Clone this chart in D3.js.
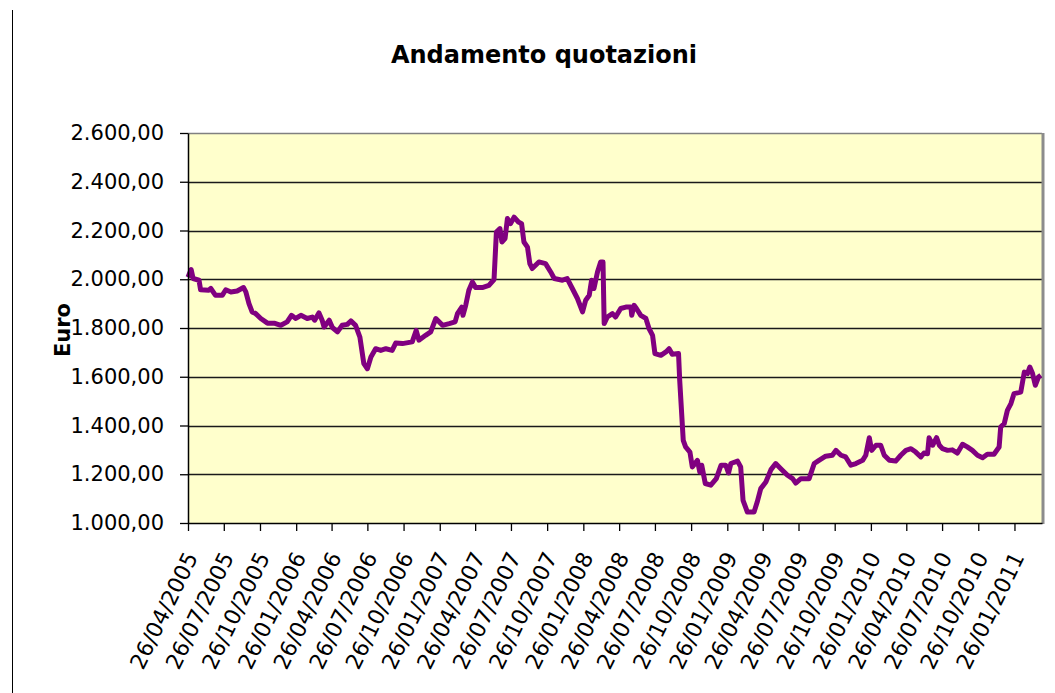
<!DOCTYPE html>
<html>
<head>
<meta charset="utf-8">
<script src="https://cdn.jsdelivr.net/npm/d3@7"></script>
<style>
body { margin: 0; background: #fff; }
svg { display: block; }
</style>
</head>
<body>
<svg id="chart" width="1055" height="693"></svg>
<script>
var dates = [
  "2005-04-26","2005-05-04","2005-05-09","2005-05-24","2005-05-28","2005-06-18","2005-06-23","2005-07-05",
  "2005-07-22","2005-07-31","2005-08-13","2005-08-29","2005-09-14","2005-09-20","2005-09-28","2005-10-06",
  "2005-10-15","2005-10-28","2005-11-14","2005-12-01","2005-12-18","2006-01-03","2006-01-14","2006-01-25",
  "2006-02-07","2006-02-23","2006-03-08","2006-03-14","2006-03-25","2006-04-02","2006-04-07","2006-04-20",
  "2006-04-28","2006-05-11","2006-05-23","2006-06-05","2006-06-14","2006-06-26","2006-07-07","2006-07-17",
  "2006-07-26","2006-08-04","2006-08-16","2006-08-29","2006-09-11","2006-09-27","2006-10-06","2006-10-23",
  "2006-11-17","2006-11-27","2006-12-04","2006-12-21","2007-01-03","2007-01-16","2007-02-02","2007-02-19",
  "2007-03-06","2007-03-12","2007-03-23","2007-03-26","2007-04-02","2007-04-10","2007-04-19","2007-04-27",
  "2007-05-14","2007-05-31","2007-06-13","2007-06-19","2007-06-28","2007-07-03","2007-07-11","2007-07-17",
  "2007-07-25","2007-08-03","2007-08-14","2007-08-22","2007-08-28","2007-09-06","2007-09-12","2007-09-18",
  "2007-10-05","2007-10-22","2007-11-04","2007-11-13","2007-12-04","2007-12-16","2007-12-29","2008-01-11",
  "2008-01-24","2008-02-01","2008-02-10","2008-02-16","2008-02-22","2008-03-02","2008-03-10","2008-03-16",
  "2008-03-19","2008-03-27","2008-04-09","2008-04-17","2008-04-30","2008-05-13","2008-05-26","2008-05-28",
  "2008-06-03","2008-06-09","2008-06-20","2008-07-03","2008-07-11","2008-07-20","2008-07-26","2008-08-10",
  "2008-08-23","2008-08-31","2008-09-08","2008-09-24","2008-09-27","2008-10-06","2008-10-12","2008-10-23",
  "2008-10-29","2008-11-11","2008-11-17","2008-11-22","2008-12-01","2008-12-15","2008-12-29","2009-01-10",
  "2009-01-22","2009-01-29","2009-02-04","2009-02-21","2009-03-01","2009-03-07","2009-03-18","2009-04-04",
  "2009-04-12","2009-04-21","2009-05-04","2009-05-17","2009-05-29","2009-06-11","2009-06-28","2009-07-11",
  "2009-07-19","2009-08-01","2009-08-22","2009-09-04","2009-09-16","2009-10-03","2009-10-20","2009-10-29",
  "2009-11-11","2009-11-23","2009-12-06","2009-12-19","2010-01-05","2010-01-13","2010-01-22","2010-01-28",
  "2010-02-08","2010-02-20","2010-03-01","2010-03-14","2010-03-30","2010-04-12","2010-04-25","2010-05-08",
  "2010-05-20","2010-06-02","2010-06-10","2010-06-19","2010-06-23","2010-07-02","2010-07-12","2010-07-19",
  "2010-07-27","2010-08-09","2010-08-21","2010-09-03","2010-09-16","2010-09-28","2010-10-11","2010-10-24",
  "2010-11-06","2010-11-18","2010-12-05","2010-12-18","2010-12-22","2010-12-31","2011-01-08","2011-01-17",
  "2011-01-25","2011-02-11","2011-02-20","2011-02-28","2011-03-06","2011-03-13","2011-03-20","2011-03-28",
  "2011-04-03"
];
var prices = [
  2008,2040,2003,1996,1957,1955,1962,1934,
  1934,1957,1948,1952,1966,1948,1900,1866,
  1859,1839,1820,1820,1811,1825,1852,1839,
  1852,1839,1845,1832,1862,1832,1804,1832,
  1802,1784,1811,1815,1829,1811,1763,1654,
  1633,1681,1715,1708,1715,1708,1738,1736,
  1743,1790,1750,1770,1784,1839,1811,1818,
  1825,1859,1886,1852,1893,1955,1989,1966,
  1966,1975,1999,2194,2208,2153,2167,2249,
  2228,2255,2235,2228,2153,2132,2064,2044,
  2071,2064,2030,2003,1996,2003,1962,1921,
  1866,1914,1934,1996,1962,2030,2071,2071,
  1818,1845,1859,1845,1880,1886,1886,1852,
  1893,1880,1852,1839,1798,1770,1695,1688,
  1702,1715,1692,1695,1585,1339,1312,1291,
  1230,1257,1209,1237,1162,1155,1182,1237,
  1237,1205,1244,1254,1230,1093,1045,1045,
  1086,1141,1168,1219,1244,1223,1196,1182,
  1164,1182,1182,1244,1257,1274,1278,1298,
  1278,1271,1237,1244,1257,1278,1350,1298,
  1319,1319,1278,1257,1254,1278,1298,1305,
  1291,1271,1287,1284,1350,1319,1350,1319,
  1305,1298,1300,1287,1323,1312,1298,1278,
  1268,1282,1282,1312,1394,1408,1462,1490,
  1531,1537,1619,1613,1640,1613,1565,1599,
  1606
];
var xTickLabels = [
  "26/04/2005","26/07/2005","26/10/2005","26/01/2006","26/04/2006","26/07/2006",
  "26/10/2006","26/01/2007","26/04/2007","26/07/2007","26/10/2007","26/01/2008",
  "26/04/2008","26/07/2008","26/10/2008","26/01/2009","26/04/2009","26/07/2009",
  "26/10/2009","26/01/2010","26/04/2010","26/07/2010","26/10/2010","26/01/2011"
];
var yTicks = [1000, 1200, 1400, 1600, 1800, 2000, 2200, 2400, 2600];
var chartTitle = "Andamento quotazioni";
var yTitle = "Euro";

(function () {
  var svg = d3.select("#chart");
  var plotLeft = 188, plotRight = 1042, plotTop = 133, plotBottom = 523;
  var fontFamily = "'DejaVu Sans', Verdana, sans-serif";
  var parseIso = d3.timeParse("%Y-%m-%d");
  var parseIt = d3.timeParse("%d/%m/%Y");
  var fmtIt = d3.timeFormat("%d/%m/%Y");
  var itLocale = d3.formatLocale({decimal: ",", thousands: ".", grouping: [3], currency: ["€", ""]});
  var fmtY = itLocale.format(",.2f");

  var data = dates.map(function (d, i) { return {date: parseIso(d), price: prices[i]}; });

  var x = d3.scaleTime()
      .domain([parseIso("2005-04-26"), parseIso("2011-04-06")])
      .range([plotLeft, plotRight]);
  var y = d3.scaleLinear().domain([1000, 2600]).range([plotBottom, plotTop]);

  // left border of the chart object
  svg.append("line")
      .attr("x1", 12.5).attr("x2", 12.5).attr("y1", 10).attr("y2", 693)
      .attr("stroke", "#000").attr("stroke-width", 1);

  // title
  svg.append("text")
      .attr("x", 544).attr("y", 63)
      .attr("text-anchor", "middle")
      .style("font-family", fontFamily)
      .style("font-size", "24px")
      .style("font-weight", "bold")
      .text(chartTitle);

  // plot area
  svg.append("rect")
      .attr("x", plotLeft).attr("y", plotTop)
      .attr("width", plotRight - plotLeft).attr("height", plotBottom - plotTop)
      .attr("fill", "#ffffcc");

  // gridlines
  svg.append("g").selectAll("line")
      .data(yTicks.filter(function (d) { return d > 1000 && d < 2600; }))
      .enter().append("line")
      .attr("x1", plotLeft).attr("x2", plotRight)
      .attr("y1", function (d) { return Math.round(y(d)) + 0.5; })
      .attr("y2", function (d) { return Math.round(y(d)) + 0.5; })
      .attr("stroke", "#1a1a1a").attr("stroke-width", 1.3);

  // top and right border, grey
  svg.append("line")
      .attr("x1", plotLeft).attr("x2", plotRight).attr("y1", plotTop + 0.5).attr("y2", plotTop + 0.5)
      .attr("stroke", "#808080").attr("stroke-width", 1.5);
  svg.append("line")
      .attr("x1", plotRight + 1).attr("x2", plotRight + 1).attr("y1", plotTop).attr("y2", plotBottom + 1)
      .attr("stroke", "#8c8c8c").attr("stroke-width", 3);

  // series line
  var line = d3.line()
      .x(function (d) { return x(d.date); })
      .y(function (d) { return y(d.price); });
  svg.append("path")
      .datum(data)
      .attr("d", line)
      .attr("fill", "none")
      .attr("stroke", "#800080")
      .attr("stroke-width", 5)
      .attr("stroke-linejoin", "round");

  // y axis
  var yAxis = d3.axisLeft(y).tickValues(yTicks).tickFormat(fmtY).tickSize(8).tickSizeOuter(0).tickPadding(16);
  var gy = svg.append("g").attr("transform", "translate(" + plotLeft + ",0)").call(yAxis);
  gy.select(".domain").attr("stroke", "#000").attr("stroke-width", 1.5);
  gy.selectAll(".tick line").attr("stroke", "#000").attr("stroke-width", 1.3);
  gy.selectAll("text")
      .style("font-family", fontFamily)
      .style("font-size", "21px")
      .attr("fill", "#000");

  // x axis
  var xAxis = d3.axisBottom(x)
      .tickValues(xTickLabels.map(parseIt))
      .tickFormat(fmtIt)
      .tickSize(8)
      .tickSizeOuter(0);
  var gx = svg.append("g").attr("transform", "translate(0," + plotBottom + ")").call(xAxis);
  gx.select(".domain").attr("stroke", "#000").attr("stroke-width", 1.5);
  gx.selectAll(".tick line").attr("stroke", "#000").attr("stroke-width", 1.3);
  gx.selectAll("text")
      .style("font-family", fontFamily)
      .style("font-size", "22px")
      .attr("fill", "#000")
      .attr("text-anchor", "end")
      .attr("dy", null)
      .attr("y", 0)
      .attr("transform", "translate(10,34) rotate(-64)");

  // y axis title
  svg.append("text")
      .attr("transform", "translate(70,330) rotate(-90)")
      .attr("text-anchor", "middle")
      .style("font-family", fontFamily)
      .style("font-size", "21px")
      .style("font-weight", "bold")
      .text(yTitle);
})();
</script>
</body>
</html>
